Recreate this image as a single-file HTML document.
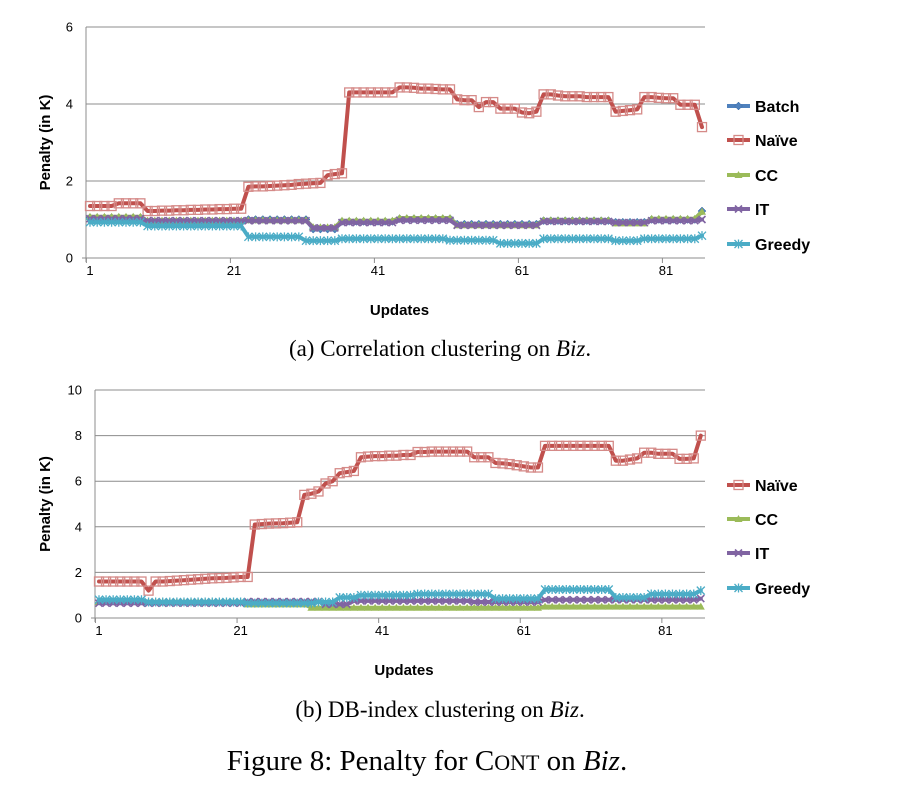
<!DOCTYPE html>
<html><head><meta charset="utf-8"><style>
html,body{margin:0;padding:0;background:#fff;}
svg{display:block;}
.ax{font-family:"Liberation Sans",sans-serif;font-size:13px;fill:#000;}
.tt{font-family:"Liberation Sans",sans-serif;font-size:15px;font-weight:bold;fill:#000;}
.lg{font-family:"Liberation Sans",sans-serif;font-size:16px;font-weight:bold;fill:#000;}
.cap{font-family:"Liberation Serif",serif;font-size:23px;fill:#000;}
.fig{font-family:"Liberation Serif",serif;font-size:29px;fill:#000;}
</style></head><body>
<svg id="svg" width="900" height="786" viewBox="0 0 900 786" xmlns="http://www.w3.org/2000/svg">
<text class="cap" x="440" y="356" text-anchor="middle">(a) Correlation clustering on <tspan font-style="italic">Biz</tspan>.</text>
<text class="cap" x="440" y="717" text-anchor="middle">(b) DB-index clustering on <tspan font-style="italic">Biz</tspan>.</text>
<text class="fig" x="427" y="770" text-anchor="middle">Figure 8: Penalty for C<tspan font-size="22">ONT</tspan> on <tspan font-style="italic">Biz</tspan>.</text>
</svg>
<script>
// ---- Chart A data ----
const updateTicksA = ["1","21","41","61","81"];
const yTicksA = [0,2,4,6];
const batchA = [1.05,1.05,1.05,1.05,1.05,1.05,1.05,1.05,
0.95,0.95,0.95,0.95,0.95,0.95,0.95,0.95,0.95,0.95,0.95,0.95,0.95,0.95,
1.0,1.0,1.0,1.0,1.0,1.0,1.0,1.0,1.0,
0.75,0.75,0.75,0.75,
0.95,0.95,0.95,0.95,0.95,0.95,0.95,0.95,
1.02,1.02,1.02,1.02,1.02,1.02,1.02,1.02,
0.88,0.88,0.88,0.88,0.88,0.88,0.88,0.88,0.88,0.88,0.88,0.88,
0.97,0.97,0.97,0.97,0.97,0.97,0.97,0.97,0.97,0.97,
0.93,0.93,0.93,0.93,0.93,
1.0,1.0,1.0,1.0,1.0,1.0,1.0,
1.22];
const naiveA = [1.35,1.35,1.35,1.35,1.42,1.42,1.42,1.42,
1.22,1.22,1.23,1.23,1.24,1.24,1.25,1.25,1.26,1.26,1.27,1.27,1.28,1.28,
1.85,1.86,1.86,1.87,1.88,1.89,1.9,1.92,1.93,1.94,1.95,
2.15,2.18,2.2,
4.3,4.3,4.3,4.3,4.3,4.3,4.3,
4.43,4.43,4.42,4.4,4.4,4.39,4.38,4.38,
4.12,4.1,4.1,3.92,4.05,4.05,3.88,3.88,3.88,3.78,3.76,3.8,
4.25,4.25,4.22,4.2,4.2,4.2,4.18,4.18,4.18,4.18,
3.8,3.82,3.84,3.86,
4.18,4.18,4.16,4.15,4.15,
3.98,3.98,3.98,3.4];
const ccA = [1.07,1.07,1.07,1.07,1.07,1.07,1.07,1.07,
0.97,0.97,0.97,0.97,0.97,0.97,0.97,0.97,0.97,0.97,0.97,0.97,0.97,0.97,
0.98,0.98,0.98,0.98,0.98,0.98,0.98,0.98,0.98,
0.8,0.8,0.8,0.8,
0.97,0.97,0.97,0.97,0.97,0.97,0.97,0.97,
1.04,1.04,1.04,1.04,1.04,1.04,1.04,1.04,
0.85,0.85,0.85,0.85,0.85,0.85,0.85,0.85,0.85,0.85,0.85,0.85,
0.98,0.98,0.98,0.98,0.98,0.98,0.98,0.98,0.98,0.98,
0.9,0.9,0.9,0.9,0.9,
1.02,1.02,1.02,1.02,1.02,1.02,1.02,
1.2];
const itA = [1.02,1.02,1.02,1.02,1.02,1.02,1.02,1.02,
0.97,0.97,0.97,0.97,0.97,0.97,0.97,0.97,0.97,0.97,0.97,0.97,0.97,0.97,
0.97,0.97,0.97,0.97,0.97,0.97,0.97,0.97,0.97,
0.78,0.78,0.78,0.78,
0.92,0.92,0.92,0.92,0.92,0.92,0.92,0.92,
0.98,0.98,0.98,0.98,0.98,0.98,0.98,0.98,
0.85,0.85,0.85,0.85,0.85,0.85,0.85,0.85,0.85,0.85,0.85,0.85,
0.95,0.95,0.95,0.95,0.95,0.95,0.95,0.95,0.95,0.95,
0.92,0.92,0.92,0.92,0.92,
0.97,0.97,0.97,0.97,0.97,0.97,0.97,
1.0];
const greedyA = [0.93,0.93,0.93,0.93,0.93,0.93,0.93,0.93,
0.83,0.83,0.83,0.83,0.83,0.83,0.83,0.83,0.83,0.83,0.83,0.83,0.83,0.83,
0.55,0.55,0.55,0.55,0.55,0.55,0.55,0.55,
0.45,0.45,0.45,0.45,0.45,
0.5,0.5,0.5,0.5,0.5,0.5,0.5,0.5,0.5,0.5,0.5,0.5,0.5,0.5,0.5,
0.46,0.46,0.46,0.46,0.46,0.46,0.46,
0.38,0.38,0.38,0.38,0.38,0.38,
0.5,0.5,0.5,0.5,0.5,0.5,0.5,0.5,0.5,0.5,
0.45,0.45,0.45,0.45,
0.5,0.5,0.5,0.5,0.5,0.5,0.5,0.5,
0.58];
// ---- Chart B data ----
const updateTicksB = ["1","21","41","61","81"];
const yTicksB = [0,2,4,6,8,10];
const naiveB = [1.6,1.6,1.6,1.6,1.6,1.6,1.6,1.2,
1.6,1.6,1.62,1.64,1.66,1.68,1.7,1.72,1.74,1.75,1.76,1.78,1.8,1.8,
4.1,4.12,4.14,4.15,4.16,4.18,4.2,
5.4,5.45,5.55,5.9,6.0,6.35,6.4,6.45,
7.05,7.08,7.1,7.1,7.12,7.12,7.15,7.15,
7.28,7.28,7.3,7.3,7.3,7.3,7.3,7.3,
7.05,7.05,7.05,6.8,6.78,6.75,6.7,6.65,6.6,6.6,
7.55,7.55,7.55,7.55,7.55,7.55,7.55,7.55,7.55,7.55,
6.9,6.9,6.95,7.0,
7.25,7.25,7.2,7.2,7.2,
6.98,6.98,7.0,8.0];
const ccB = [0.7,0.7,0.7,0.7,0.7,0.7,0.7,0.7,0.7,0.7,0.7,0.7,0.7,0.7,0.7,0.7,0.7,0.7,0.7,0.7,0.7,
0.6,0.6,0.6,0.6,0.6,0.6,0.6,0.6,0.6,
0.45,0.45,0.45,0.45,0.45,0.45,0.45,0.45,0.45,0.45,0.45,0.45,0.45,0.45,0.45,0.45,0.45,0.45,0.45,0.45,0.45,0.45,0.45,0.45,0.45,0.45,0.45,0.45,0.45,0.45,0.45,0.45,0.45,
0.5,0.5,0.5,0.5,0.5,0.5,0.5,0.5,0.5,0.5,0.5,0.5,0.5,0.5,0.5,0.5,0.5,0.5,0.5,0.5,0.5,0.5,0.5];
const itB = [0.65,0.65,0.65,0.65,0.65,0.65,0.65,0.65,0.65,0.65,0.65,0.65,0.65,0.65,0.65,0.65,0.65,0.65,0.65,0.65,0.65,
0.72,0.72,0.72,0.72,0.72,0.72,0.72,0.72,0.72,0.72,0.72,
0.6,0.6,0.6,0.6,
0.75,0.75,0.75,0.75,0.75,0.75,0.75,0.75,0.75,0.75,0.75,0.75,0.75,0.75,0.75,0.75,0.75,
0.7,0.7,0.7,0.7,0.7,0.7,0.7,0.7,0.7,0.7,
0.8,0.8,0.8,0.8,0.8,0.8,0.8,0.8,0.8,0.8,
0.8,0.8,0.8,0.8,0.8,0.8,0.8,0.8,0.8,0.8,0.8,0.8,0.85];
const greedyB = [0.8,0.8,0.8,0.8,0.8,0.8,0.8,
0.7,0.7,0.7,0.7,0.7,0.7,0.7,0.7,0.7,0.7,0.7,0.7,0.7,0.7,
0.65,0.65,0.65,0.65,0.65,0.65,0.65,0.65,0.65,0.65,
0.7,0.7,0.7,0.9,0.9,0.9,
1.0,1.0,1.0,1.0,1.0,1.0,1.0,1.0,
1.05,1.05,1.05,1.05,1.05,1.05,1.05,1.05,1.05,1.05,1.05,
0.85,0.85,0.85,0.85,0.85,0.85,0.85,
1.25,1.25,1.25,1.25,1.25,1.25,1.25,1.25,1.25,1.25,
0.9,0.9,0.9,0.9,0.9,
1.05,1.05,1.05,1.05,1.05,1.05,1.05,1.2];

const NS='http://www.w3.org/2000/svg';
const svg=document.getElementById('svg');
function mk(tag,attrs,parent){const e=document.createElementNS(NS,tag);for(const k in attrs)e.setAttribute(k,attrs[k]);(parent||svg).appendChild(e);return e;}
const COL={batch:'#4F81BD',naive:'#C0504D',cc:'#9BBB59',it:'#8064A2',greedy:'#4BACC6'};

function marker(g,type,x,y,c){
  let m;
  if(type==='diamond') m=mk('path',{d:`M${x} ${y-4}L${x+4} ${y}L${x} ${y+4}L${x-4} ${y}Z`,fill:c,stroke:'#3a6aa5','stroke-width':0.5},g);
  else if(type==='square') m=mk('rect',{x:x-4.5,y:y-4.5,width:9,height:9,fill:'none',stroke:'#d58a88','stroke-width':1.3},g);
  else if(type==='tri') m=mk('path',{d:`M${x} ${y-4}L${x+4} ${y+3}L${x-4} ${y+3}Z`,fill:c},g);
  else if(type==='x') m=mk('path',{d:`M${x-3.5} ${y-3.5}L${x+3.5} ${y+3.5}M${x+3.5} ${y-3.5}L${x-3.5} ${y+3.5}`,stroke:c,'stroke-width':1.6},g);
  else m=mk('path',{d:`M${x-4} ${y-4}L${x+4} ${y+4}M${x+4} ${y-4}L${x-4} ${y+4}M${x} ${y-4.5}L${x} ${y+4.5}`,stroke:c,'stroke-width':1.3},g);
  
  
}

function chart(cfg){
  const {id,x0,x1,xFirst,step,yTop,yBot,yMax,yTicks,xTicks,series,legendY,titleY,xtY}=cfg;
  const g=mk('g',{});
  
  
  const sy=v=>yBot-(v/yMax)*(yBot-yTop);
  const sx=i=>xFirst+i*step;
  yTicks.forEach(t=>{
    const y=sy(t);
    if(t>0){const l=mk('line',{x1:x0,x2:x1,y1:y,y2:y,stroke:'#8c8c8c','stroke-width':1},g);
    }
    const tx=mk('text',{class:'ax',x:x0-13,y:y+4.5,'text-anchor':'end'},g);tx.textContent=t;
    
  });
  const ya=mk('line',{x1:x0,x2:x0,y1:yTop,y2:yBot+4,stroke:'#8c8c8c'},g);
  
  const xa=mk('line',{x1:x0-4,x2:x1,y1:yBot,y2:yBot,stroke:'#8c8c8c'},g);
  
  xTicks.forEach((t,k)=>{
    const idx=parseInt(t)-1;const tkx=sx(idx)-step/2;
    mk('line',{x1:tkx,x2:tkx,y1:yBot,y2:yBot+5,stroke:'#8c8c8c'},g);
    const tx=mk('text',{class:'ax',x:sx(idx),y:yBot+17,'text-anchor':'middle'},g);tx.textContent=t;
    
  });
  const yt=mk('text',{class:'tt',transform:`translate(50,${(yTop+yBot)/2}) rotate(-90)`,'text-anchor':'middle'},g);
  yt.textContent='Penalty (in K)';
  
  const xt=mk('text',{class:'tt',x:(x0+x1)/2+4,y:xtY,'text-anchor':'middle'},g);
  xt.textContent='Updates';
  
  series.forEach((s,si)=>{
    const sg=mk('g',{},g);
    
    
    const pts=s.data.map((v,i)=>sx(i).toFixed(1)+','+sy(v).toFixed(1)).join(' ');
    const pl=mk('polyline',{points:pts,fill:'none',stroke:COL[s.key],'stroke-width':4,'stroke-linejoin':'round','stroke-linecap':'round'},sg);
    
    
    s.data.forEach((v,i)=>marker(sg,s.m,sx(i),sy(v),COL[s.key]));
    const ly=legendY[si];
    const lg=mk('g',{},g);
    
    
    mk('line',{x1:727,x2:750,y1:ly,y2:ly,stroke:COL[s.key],'stroke-width':4},lg);
    marker(lg,s.m,738.5,ly,COL[s.key]);
    const lt=mk('text',{class:'lg',x:755,y:ly+6},lg);lt.textContent=s.label;
  });
}

chart({id:'chart-a',x0:86,x1:705,xFirst:90,step:7.2,yTop:27,yBot:258,yMax:6,yTicks:yTicksA,xTicks:updateTicksA,xtY:315,
 legendY:[106,140,175,209,244],
 series:[{key:'batch',label:'Batch',m:'diamond',data:batchA},{key:'naive',label:'Naïve',m:'square',data:naiveA},
 {key:'cc',label:'CC',m:'tri',data:ccA},{key:'it',label:'IT',m:'x',data:itA},{key:'greedy',label:'Greedy',m:'star',data:greedyA}]});
chart({id:'chart-b',x0:95,x1:705,xFirst:99,step:7.08,yTop:390,yBot:618,yMax:10,yTicks:yTicksB,xTicks:updateTicksB,xtY:675,
 legendY:[485,519,553,588],
 series:[{key:'naive',label:'Naïve',m:'square',data:naiveB},
 {key:'cc',label:'CC',m:'tri',data:ccB},{key:'it',label:'IT',m:'x',data:itB},{key:'greedy',label:'Greedy',m:'star',data:greedyB}]});
</script>
</body></html>
